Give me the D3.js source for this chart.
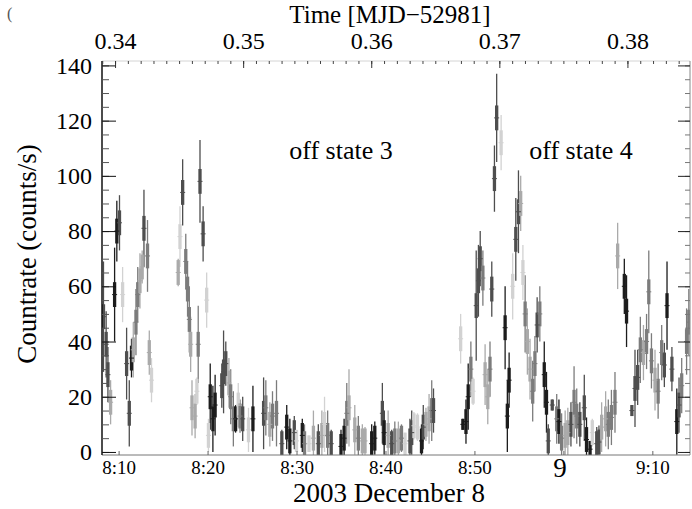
<!DOCTYPE html>
<html>
<head>
<meta charset="utf-8">
<script src="https://cdn.jsdelivr.net/npm/d3@7"></script>
<style>
  body { margin: 0; background: #fff; }
  svg { display: block; font-family: 'Liberation Serif', 'Times New Roman', serif; }
</style>
</head>
<body>
<svg></svg>
<script>
const w = 692
const h = 509

// light curve bins: minutes after 08:00 UT on 2003 Dec 8
const minutes = [8.3, 8.6, 8.8, 9.1, 9.55, 9.8, 10.1, 10.45, 10.9, 11.2, 11.45, 11.65, 11.95, 12.15, 12.4, 12.65, 12.85, 13.25, 13.45, 13.7,
  16.7, 16.9, 17.2, 17.55, 17.75, 17.95, 18.1, 18.25, 18.6, 18.8, 18.95, 19.15, 19.5, 19.9, 20.1, 20.3, 20.6, 20.85,
  21.6, 21.8, 22.05, 22.4, 22.6, 22.9, 23.15, 23.45, 23.65, 23.95, 24.6, 25.1, 26.3, 26.55, 27.0, 27.3, 27.75,
  28.35, 28.9, 29.25, 29.75, 30.0, 30.65, 30.9, 31.4, 31.9, 32.45, 32.85, 33.15, 33.5, 33.9, 35.0, 35.35, 35.65, 35.9,
  36.55, 36.95, 37.4, 37.7, 38.45, 38.8, 39.65, 39.85, 40.3, 40.7, 41.05, 41.45, 41.8, 42.2, 42.75, 42.95, 43.2, 43.6,
  44.05, 44.25, 44.55, 44.9, 45.2, 45.4, 48.45, 48.7, 49.05, 49.3, 49.6, 49.85, 50.2, 50.45, 50.65, 50.95, 51.2, 51.5,
  51.75, 51.95, 52.25, 52.5, 53.0, 53.45, 53.7, 53.9, 54.3, 54.65, 54.95, 55.2, 55.45, 55.7, 55.95, 56.25, 56.55, 56.8,
  57.05, 57.35, 57.85, 58.1, 58.3, 58.75, 59.25, 59.5, 59.8, 60.2, 60.5, 60.85, 61.2, 61.5, 61.85, 62.35, 62.6, 63.0,
  63.25, 63.75, 64.0, 64.3, 64.75, 65.05, 65.4, 65.8, 66.1, 66.85, 67.1, 67.7, 68.05, 68.35, 68.65, 69.0, 69.35, 69.6,
  69.9, 70.3, 70.65, 71.05, 71.35, 71.65, 72.2, 72.75, 73.0, 73.3, 73.85, 74.1]

const rates = [49, 39, 28, 18, 57, 80, 83, 57, 32, 14, 34, 37, 47, 57, 62, 67, 81, 71, 36, 26,
  65, 78, 94, 69, 59, 48, 39, 16, 13, 22, 39, 98, 79, 55, 6, 20, 12, 17,
  24, 29, 32, 25, 20, 12, 12, 17, 13, 12, 8, 12, 14, 16, 10, 13, 14,
  3, 9, 4, 7, 4, 6, 3, 3, 5, 3, 6, 10, 6, 3, 2, 5, 14, 16,
  8, 5, 4, 4, 3, 5, 14, 7, 6, 3, 4, 4, 5, 3, 4, 7, 9.5, 9,
  4, 9, 10, 12, 15, 15, 41, 10, 11, 20, 30, 22, 53, 62, 70, 63, 28, 20,
  30, 59, 99, 121, 112, 45, 13, 26, 60, 77, 87, 90, 65, 50, 40, 30, 22, 32,
  46, 50, 28, 18, 4, 17, 12, 11, 5, 6, 7, 10, 18, 13, 10, 16, 4.5, 1,
  7, 3, 3.6, 9, 12, 10, 12.5, 18, 71, 60, 51, 15, 23, 27, 37, 36, 40, 58,
  33, 26, 22, 36, 31.5, 53, 30, 11, 17, 24, 40, 47]

const errors = [20, 12, 10, 8, 17, 11, 10, 10, 13, 12, 7, 10, 12, 10, 10, 6, 14, 13, 8, 8,
  5, 11, 12, 10, 10, 12, 10, 10, 8, 5, 14, 15, 10, 10, 6, 12, 12, 11,
  8, 15, 8, 9, 10, 10, 5, 8, 6, 8, 8, 12, 13, 10, 8, 9, 12,
  5, 8, 8, 6, 4, 6, 7, 3, 10, 7, 9, 10, 9, 5, 6, 7, 11, 14,
  9, 8, 6, 5, 7, 6, 11, 8, 9, 5, 7, 7, 5, 4, 8, 8, 5, 5,
  6, 8, 6, 9, 11, 8, 9, 2, 8, 12, 10, 5, 20, 13, 10, 10, 11, 10,
  10, 10, 12, 16, 10, 15, 13, 10, 12, 15, 15, 10, 10, 14, 12, 11, 11, 10,
  10, 10, 12, 11, 6, 2, 9, 8, 9, 9, 9, 8, 13, 10, 8, 12, 8, 3,
  5, 6, 6, 9, 10, 9, 10, 11, 12, 10, 13, 2, 14, 10, 12, 10, 10, 15,
  10, 11, 10, 10, 8, 16, 8, 12, 10, 10, 12, 12]

// grey level of each bin: k black, d dark, g grey, l light, v very light
const shades = ['d','d','d','l','k','k','d','v','d','d','k','l','g','g','l','l','d','g','l','v',
  'l','v','d','g','g','g','l','l','l','v','g','d','d','v','v','k','k','k',
  'd','d','d','l','g','g','k','v','g','d','v','k','d','g','l','g','g',
  'd','k','k','d','v','k','g','v','l','d','l','v','g','d','k','k','g','l',
  'l','g','l','l','k','k','d','k','l','d','g','l','g','v','d','d','v','v',
  'k','d','l','l','g','d','v','k','k','k','g','v','d','d','d','g','l','l',
  'g','d','d','d','v','k','k','k','v','d','d','l','v','g','l','l','g','g',
  'd','g','k','k','d','d','g','k','g','l','l','d','g','g','d','d','k','k',
  'v','d','d','l','l','g','g','g','l','k','k','d','d','d','g','l','g','g',
  'g','l','g','g','d','k','d','k','d','g','g','g']

const shadeColor = { k: '#1c1c1c', d: '#4e4e4e', g: '#7c7c7c', l: '#aaaaaa', v: '#d2d2d2' }

const yTicks = [0, 20, 40, 60, 80, 100, 120, 140]
const mjdTicks = [0.34, 0.35, 0.36, 0.37, 0.38]
const hourTicks = ['08:10', '08:20', '08:30', '08:40', '08:50', '09:00', '09:10']

const day = Date.UTC(2003, 11, 8) // MJD 52981
const atMin = m => new Date(day + (8 * 60 + m) * 60000)

const data = minutes.map((m, i) => ({
  time: atMin(m), rate: rates[i], err: errors[i], shade: shades[i]
}))

const margin = { top: 61, right: 2, bottom: 54, left: 102 }
const innerW = w - margin.left - margin.right
const innerH = h - margin.top - margin.bottom

const svg = d3.select('svg').attr('width', w).attr('height', h)

const x = d3.scaleUtc()
  .domain([atMin(8 + 8 / 60), atMin(74 + 14 / 60)])
  .range([0, innerW])

const toMjd = d => (d - day) / 86400000
const xTop = d3.scaleLinear()
  .domain(x.domain().map(toMjd))
  .range([0, innerW])

const y = d3.scaleLinear()
  .domain([-1.1, 141.6])
  .range([innerH, 0])

const g = svg.append('g')
  .attr('transform', `translate(${margin.left}, ${margin.top})`)

g.append('clipPath').attr('id', 'plot')
  .append('rect').attr('width', innerW).attr('height', innerH)

const marks = g.append('g').attr('clip-path', 'url(#plot)')
const thickHalf = 4.5

// thin error bars
marks.selectAll('line.err').data(data)
  .enter().append('line')
  .attr('class', 'err')
  .attr('x1', d => x(d.time)).attr('x2', d => x(d.time))
  .attr('y1', d => y(d.rate - d.err)).attr('y2', d => y(d.rate + d.err))
  .attr('stroke', d => shadeColor[d.shade])
  .attr('stroke-width', 1.3)

// thick central part
marks.selectAll('line.core').data(data)
  .enter().append('line')
  .attr('class', 'core')
  .attr('x1', d => x(d.time)).attr('x2', d => x(d.time))
  .attr('y1', d => y(d.rate - Math.min(thickHalf, d.err))).attr('y2', d => y(d.rate + Math.min(thickHalf, d.err)))
  .attr('stroke', d => shadeColor[d.shade])
  .attr('stroke-width', 3.3)

// small bin step at the value
marks.selectAll('line.step').data(data)
  .enter().append('line')
  .attr('class', 'step')
  .attr('x1', d => x(d.time) - 2.5).attr('x2', d => x(d.time) + 2.5)
  .attr('y1', d => y(d.rate)).attr('y2', d => y(d.rate))
  .attr('stroke', d => shadeColor[d.shade])
  .attr('stroke-width', 1)

// frame
g.append('line').attr('x1', 0).attr('x2', innerW).attr('y1', 0).attr('y2', 0).attr('stroke', '#d4d4d4')
g.append('line').attr('x1', innerW).attr('x2', innerW).attr('y1', 0).attr('y2', innerH).attr('stroke', '#888')
g.append('line').attr('x1', 0).attr('x2', innerW).attr('y1', innerH).attr('y2', innerH).attr('stroke', '#777')
g.append('line').attr('x1', 0).attr('x2', 0).attr('y1', 0).attr('y2', innerH).attr('stroke', '#111').attr('stroke-width', 1.5)

const minorY = d3.range(0, 141, 5)

const styleAxis = (sel, color) => {
  sel.attr('font-family', null)
  sel.select('.domain').remove()
  sel.selectAll('.tick line').attr('stroke', color)
  sel.selectAll('text')
    .attr('fill', '#000')
    .attr('font-family', "'Liberation Serif', 'Times New Roman', serif")
}

// left axis
g.append('g')
  .call(d3.axisLeft(y).tickValues(minorY).tickSize(-7).tickFormat(''))
  .call(s => styleAxis(s, '#555'))
g.append('g')
  .call(d3.axisLeft(y).tickValues(yTicks).tickSize(-14).tickPadding(10))
  .call(s => styleAxis(s, '#111'))
  .attr('font-size', 24)

// right axis
g.append('g').attr('transform', `translate(${innerW}, 0)`)
  .call(d3.axisRight(y).tickValues(minorY).tickSize(-5).tickFormat(''))
  .call(s => styleAxis(s, '#777'))
g.append('g').attr('transform', `translate(${innerW}, 0)`)
  .call(d3.axisRight(y).tickValues(yTicks).tickSize(-12).tickFormat(''))
  .call(s => styleAxis(s, '#222'))

// top axis (MJD)
g.append('g')
  .call(d3.axisTop(xTop).tickValues(d3.range(0.339, 0.385, 0.001)).tickSize(-3).tickFormat(''))
  .call(s => styleAxis(s, '#444'))
g.append('g')
  .call(d3.axisTop(xTop).tickValues(mjdTicks).tickSize(-7).tickPadding(12).tickFormat(d3.format('.2f')))
  .call(s => styleAxis(s, '#333'))
  .attr('font-size', 24)

// bottom axis (UT)
const parseHM = d3.utcParse('%Y-%m-%d %H:%M')
const hourDates = hourTicks.map(s => parseHM('2003-12-08 ' + s))
const xAxisG = g.append('g').attr('transform', `translate(0, ${innerH})`)
  .call(d3.axisBottom(x).tickValues(hourDates).tickSize(-4).tickPadding(6)
    .tickFormat(d => d.getUTCMinutes() === 0 ? d3.utcFormat('%-H')(d) : d3.utcFormat('%-H:%M')(d)))
  .call(s => styleAxis(s, '#666'))
  .attr('font-size', 19)
xAxisG.selectAll('.tick text')
  .filter(d => d.getUTCMinutes() === 0)
  .attr('font-size', 27)
  .attr('dy', '0.6em')
  .attr('x', -4)

// titles
svg.append('text')
  .attr('x', 390).attr('y', 23)
  .attr('text-anchor', 'middle')
  .attr('font-size', 25)
  .text('Time [MJD\u221252981]')

svg.append('text')
  .attr('x', 389).attr('y', 502)
  .attr('text-anchor', 'middle')
  .attr('font-size', 27)
  .text('2003 December 8')

svg.append('text')
  .attr('transform', 'translate(36, 254) rotate(-90)')
  .attr('text-anchor', 'middle')
  .attr('font-size', 27)
  .text('Countrate (counts/s)')

svg.append('text')
  .attr('x', 341).attr('y', 159)
  .attr('text-anchor', 'middle')
  .attr('font-size', 26)
  .text('off state 3')

svg.append('text')
  .attr('x', 581).attr('y', 159)
  .attr('text-anchor', 'middle')
  .attr('font-size', 26)
  .text('off state 4')

svg.append('text')
  .attr('x', 7).attr('y', 19)
  .attr('font-size', 16)
  .attr('fill', '#555')
  .text('(')
</script>
</body>
</html>
